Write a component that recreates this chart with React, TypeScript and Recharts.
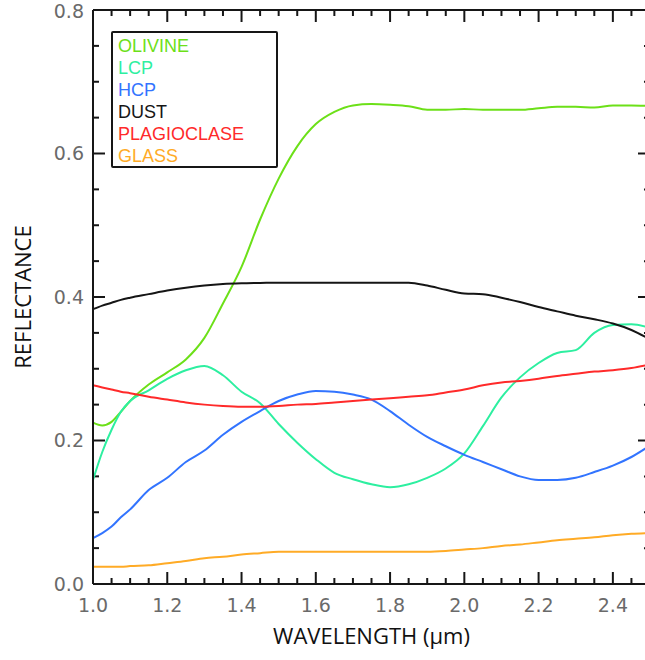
import { Line, LineChart, ReferenceLine, XAxis, YAxis } from "recharts";

// wavelength grid (µm)
const WAVELENGTH = [
  1.0, 1.025, 1.05, 1.075, 1.1, 1.15, 1.2, 1.25, 1.3, 1.35, 1.4, 1.45, 1.5, 1.55, 1.6, 1.65, 1.7,
  1.75, 1.8, 1.85, 1.9, 1.95, 2.0, 2.05, 2.1, 2.15, 2.2, 2.25, 2.3, 2.35, 2.4, 2.45, 2.5,
];

const OLIVINE = [
  0.225, 0.221, 0.226, 0.24, 0.255, 0.278, 0.295, 0.313, 0.343, 0.391, 0.442, 0.508, 0.565, 0.61,
  0.641, 0.658, 0.667, 0.669, 0.668, 0.666, 0.661, 0.661, 0.662, 0.661, 0.661, 0.661, 0.663, 0.665,
  0.665, 0.664, 0.667, 0.667, 0.666,
];
const LCP = [
  0.145, 0.184, 0.215, 0.24, 0.255, 0.27, 0.286, 0.298, 0.304, 0.291, 0.268, 0.252, 0.223, 0.197,
  0.174, 0.155, 0.146, 0.139, 0.135, 0.139, 0.148, 0.161, 0.182, 0.22, 0.26, 0.288, 0.308, 0.322,
  0.326, 0.35, 0.361, 0.362, 0.357,
];
const HCP = [
  0.064, 0.071, 0.08, 0.093, 0.104, 0.131, 0.148, 0.17, 0.186, 0.208, 0.226, 0.241, 0.255, 0.264,
  0.269, 0.268, 0.264, 0.257, 0.241, 0.222, 0.205, 0.192, 0.18, 0.17, 0.16, 0.15, 0.145, 0.145,
  0.148, 0.156, 0.165, 0.177, 0.193,
];
const DUST = [
  0.383, 0.388, 0.392, 0.396, 0.399, 0.404, 0.409, 0.413, 0.416, 0.418, 0.419, 0.4195, 0.42, 0.42,
  0.42, 0.42, 0.42, 0.42, 0.42, 0.42, 0.416, 0.41, 0.405, 0.404, 0.399, 0.393, 0.386, 0.38, 0.374,
  0.369, 0.363, 0.354, 0.341,
];
const PLAGIOCLASE = [
  0.277, 0.274, 0.271, 0.268, 0.266, 0.261, 0.257, 0.253, 0.25, 0.248, 0.247, 0.247, 0.248, 0.25,
  0.251, 0.253, 0.255, 0.257, 0.259, 0.261, 0.263, 0.267, 0.271, 0.277, 0.281, 0.283, 0.286, 0.29,
  0.293, 0.296, 0.298, 0.301, 0.306,
];
const GLASS = [
  0.024, 0.024, 0.024, 0.024, 0.025, 0.026, 0.029, 0.032, 0.036, 0.038, 0.041, 0.043, 0.045, 0.045,
  0.045, 0.045, 0.045, 0.045, 0.045, 0.045, 0.045, 0.046, 0.048, 0.05, 0.053, 0.055, 0.058, 0.061,
  0.063, 0.065, 0.068, 0.07, 0.071,
];

// axis ticks: labelled majors + unlabelled minors every 0.05
const X_LABELS = [1.0, 1.2, 1.4, 1.6, 1.8, 2.0, 2.2, 2.4];
const X_MINORS = [
  1.05, 1.1, 1.15, 1.25, 1.3, 1.35, 1.45, 1.5, 1.55, 1.65, 1.7, 1.75, 1.85, 1.9, 1.95, 2.05, 2.1,
  2.15, 2.25, 2.3, 2.35, 2.45,
];
const Y_LABELS = [0, 0.2, 0.4, 0.6, 0.8];
const Y_MINORS = [0.05, 0.1, 0.15, 0.25, 0.3, 0.35, 0.45, 0.5, 0.55, 0.65, 0.7, 0.75];

const SERIES = [
  { key: "olivine", name: "OLIVINE", color: "#6ce018", values: OLIVINE },
  { key: "lcp", name: "LCP", color: "#2defa0", values: LCP },
  { key: "hcp", name: "HCP", color: "#3274ff", values: HCP },
  { key: "dust", name: "DUST", color: "#151515", values: DUST },
  { key: "plag", name: "PLAGIOCLASE", color: "#ff2a2a", values: PLAGIOCLASE },
  { key: "glass", name: "GLASS", color: "#ffab26", values: GLASS },
];

const data = WAVELENGTH.map((w, i) => {
  const row: Record<string, number> = { wavelength: w };
  SERIES.forEach((s) => (row[s.key] = s.values[i]));
  return row;
});

const X_MIN = 1.0;
const X_MAX = 2.5;
const Y_MIN = 0;
const Y_MAX = 0.8;

const AXIS = "#161616";
const TITLE_FONT = "Open Sans, sans-serif";
const TICK_TEXT = { fill: "#6a6a6a", fontSize: 19, fontFamily: "DejaVu Sans, sans-serif" };

// inward tick lengths in axis units (~12px major, ~6px minor)
const XT_MAJOR = 0.0323;
const XT_MINOR = 0.0162;
const YT_MAJOR = 0.0167;
const YT_MINOR = 0.0084;

const fmt = (v: number) => v.toFixed(1);

function LegendBox() {
  return (
    <div
      style={{
        position: "absolute",
        left: 111,
        top: 31,
        border: `2px solid ${AXIS}`,
        borderRadius: 2,
        width: 167,
        height: 137,
        boxSizing: "border-box",
        padding: "2px 0 0 5px",
        background: "#fff",
      }}
    >
      {SERIES.map((s) => (
        <div
          key={s.key}
          style={{
            color: s.color,
            fontFamily: "Liberation Sans, sans-serif",
            fontSize: 18,
            lineHeight: "22px",
          }}
        >
          {s.name}
        </div>
      ))}
    </div>
  );
}

export default function App() {
  return (
    <div
      style={{
        position: "absolute",
        left: 0,
        top: 0,
        width: 645,
        height: 660,
        overflow: "hidden",
        background: "#fff",
      }}
    >
      <LineChart width={660} height={660} data={data} margin={{ top: 10, right: 10, bottom: 0, left: 0 }}>
        <XAxis
          xAxisId="b"
          dataKey="wavelength"
          type="number"
          domain={[X_MIN, X_MAX]}
          ticks={X_LABELS}
          tickFormatter={fmt}
          tickSize={-12}
          tickMargin={27}
          tickLine={{ stroke: AXIS, strokeWidth: 2 }}
          tick={TICK_TEXT}
          height={76}
          axisLine={{ stroke: AXIS, strokeWidth: 2 }}
          label={{
            value: "WAVELENGTH (µm)",
            position: "insideBottom",
            offset: 16,
            fill: "#111",
            fontSize: 22,
            fontFamily: TITLE_FONT,
          }}
        />
        <YAxis
          yAxisId="l"
          type="number"
          domain={[Y_MIN, Y_MAX]}
          ticks={Y_LABELS}
          tickFormatter={fmt}
          tickSize={-12}
          tickMargin={21}
          tickLine={{ stroke: AXIS, strokeWidth: 2 }}
          tick={TICK_TEXT}
          width={93}
          axisLine={{ stroke: AXIS, strokeWidth: 2 }}
          label={{
            value: "REFLECTANCE",
            angle: -90,
            position: "insideLeft",
            offset: 23,
            style: { textAnchor: "middle" },
            fill: "#111",
            fontSize: 22,
            fontFamily: TITLE_FONT,
          }}
        />
        {/* top and right frame */}
        <ReferenceLine xAxisId="b" yAxisId="l" y={Y_MAX} stroke={AXIS} strokeWidth={2} />
        <ReferenceLine xAxisId="b" yAxisId="l" x={X_MAX} stroke={AXIS} strokeWidth={2} />
        {X_MINORS.map((v) => (
          <ReferenceLine
            key={`xb${v}`}
            xAxisId="b"
            yAxisId="l"
            ifOverflow="visible"
            segment={[{ x: v, y: Y_MIN }, { x: v, y: Y_MIN + YT_MINOR }]}
            stroke={AXIS}
            strokeWidth={2}
          />
        ))}
        {X_MINORS.concat(X_LABELS).map((v) => (
          <ReferenceLine
            key={`xt${v}`}
            xAxisId="b"
            yAxisId="l"
            ifOverflow="visible"
            segment={[
              { x: v, y: Y_MAX },
              { x: v, y: Y_MAX - (X_LABELS.includes(v) ? YT_MAJOR : YT_MINOR) },
            ]}
            stroke={AXIS}
            strokeWidth={2}
          />
        ))}
        {Y_MINORS.map((v) => (
          <ReferenceLine
            key={`yl${v}`}
            xAxisId="b"
            yAxisId="l"
            ifOverflow="visible"
            segment={[{ x: X_MIN, y: v }, { x: X_MIN + XT_MINOR, y: v }]}
            stroke={AXIS}
            strokeWidth={2}
          />
        ))}
        {Y_MINORS.concat(Y_LABELS).map((v) => (
          <ReferenceLine
            key={`yr${v}`}
            xAxisId="b"
            yAxisId="l"
            ifOverflow="visible"
            segment={[
              { x: X_MAX, y: v },
              { x: X_MAX - (Y_LABELS.includes(v) ? XT_MAJOR : XT_MINOR), y: v },
            ]}
            stroke={AXIS}
            strokeWidth={2}
          />
        ))}
        {SERIES.map((s) => (
          <Line
            key={s.key}
            xAxisId="b"
            yAxisId="l"
            type="monotone"
            dataKey={s.key}
            name={s.name}
            stroke={s.color}
            strokeWidth={2}
            dot={false}
            activeDot={false}
            isAnimationActive={false}
          />
        ))}
      </LineChart>
      <LegendBox />
    </div>
  );
}
